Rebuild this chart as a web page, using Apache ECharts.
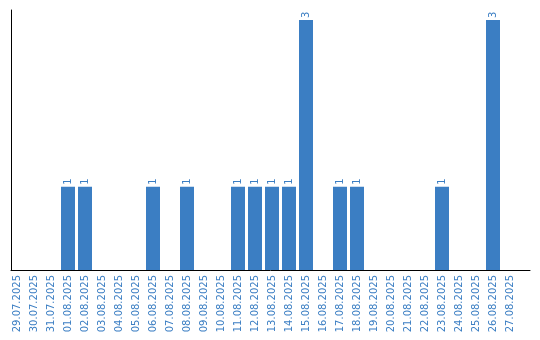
<!DOCTYPE html>
<html><head><meta charset="utf-8">
<script src="https://cdn.jsdelivr.net/npm/echarts@6/dist/echarts.min.js"></script>
<style>html,body{margin:0;padding:0;background:#fff}#c{width:540px;height:340px}</style>
</head><body><div id="c"></div>
<script>
const categories = ["29.07.2025","30.07.2025","31.07.2025","01.08.2025","02.08.2025","03.08.2025","04.08.2025","05.08.2025","06.08.2025","07.08.2025","08.08.2025","09.08.2025","10.08.2025","11.08.2025","12.08.2025","13.08.2025","14.08.2025","15.08.2025","16.08.2025","17.08.2025","18.08.2025","19.08.2025","20.08.2025","21.08.2025","22.08.2025","23.08.2025","24.08.2025","25.08.2025","26.08.2025","27.08.2025"];
const counts = [0,0,0,1,1,0,0,0,1,0,1,0,0,1,1,1,1,3,0,1,1,0,0,0,0,1,0,0,3,0];
const blue = '#3b7ec3';
const chart = echarts.init(document.getElementById('c'));
chart.setOption({
  animation:false,
  grid:[
    {left:8.5, width:510, top:10, height:260},
    {left:11, width:519, top:10, height:260}
  ],
  xAxis:[
    {type:'category', gridIndex:0, data:categories,
     axisLine:{show:false}, axisTick:{show:false},
     axisLabel:{rotate:90, interval:0, margin:5, color:blue, fontFamily:'DejaVu Sans', fontSize:10}},
    {type:'value', gridIndex:1, min:0, max:1, axisLine:{show:true, onZero:false, lineStyle:{color:'#000', width:1}},
     axisTick:{show:false}, axisLabel:{show:false}, splitLine:{show:false}}
  ],
  yAxis:[
    {type:'value', gridIndex:0, min:0, max:3.12, axisLine:{show:false}, axisTick:{show:false}, axisLabel:{show:false}, splitLine:{show:false}},
    {type:'value', gridIndex:1, min:0, max:1, axisLine:{show:true, lineStyle:{color:'#000', width:1}},
     axisTick:{show:false}, axisLabel:{show:false}, splitLine:{show:false}}
  ],
  series:[{
    type:'bar', xAxisIndex:0, yAxisIndex:0, data:counts, barWidth:14,
    itemStyle:{color:blue},
    label:{show:true, position:'top', rotate:90, align:'left', verticalAlign:'middle', distance:2,
      color:blue, fontFamily:'DejaVu Sans', fontSize:10,
      formatter:p=>p.value? String(p.value):''}
  }]
});
</script></body></html>
